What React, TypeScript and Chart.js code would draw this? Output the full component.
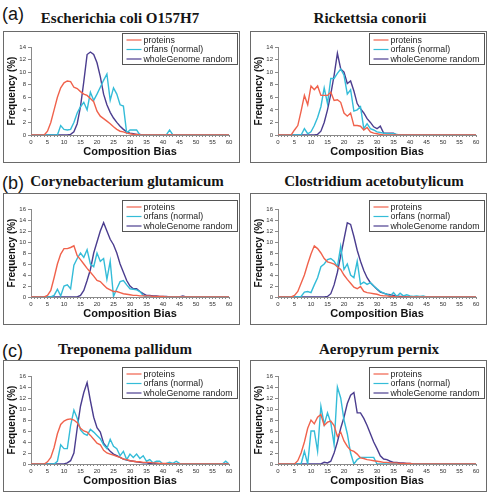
import { useEffect, useRef } from "react";
import { Chart, registerables } from "chart.js";

Chart.register(...registerables);

// ---------- data ----------
const compositionBias = [
  0, 1, 2, 3, 4, 5, 6, 7, 8, 9, 10, 11, 12, 13, 14, 15, 16, 17, 18, 19, 20,
  21, 22, 23, 24, 25, 26, 27, 28, 29, 30, 31, 32, 33, 34, 35, 36, 37, 38, 39, 40,
  41, 42, 43, 44, 45, 46, 47, 48, 49, 50, 51, 52, 53, 54, 55, 56, 57, 58, 59, 60,
];
const seriesNames = ["proteins", "orfans (normal)", "wholeGenome random"];

const ecoliProteins = [
  0, 0, 0, 0, 0, 0.6, 2, 4, 6, 7.5, 8.3, 8.6, 8.5, 7.6, 7.4, 6.9, 6.5, 6.3, 5.8, 5.3,
  3.8, 3.0, 2.6, 2.2, 1.8, 1.3, 0.9, 0.6, 0.5, 0.3, 0.2, 0.1, 0.1, 0, 0, 0, 0, 0, 0, 0,
  0, 0, 0, 0, 0, 0, 0, 0, 0, 0, 0, 0, 0, 0, 0, 0, 0, 0, 0, 0, 0,
];
const ecoliOrfans = [
  0, 0, 0, 0, 0, 0, 0, 0, 0, 1.5, 0.9, 0.8, 0.9, 2, 3.5, 4.5, 5.2, 4.0, 6.8, 5.5,
  6.5, 7.6, 8.7, 9.7, 5.5, 7.5, 6.5, 4.8, 4.6, 0.3, 0.8, 0.8, 0.8, 0, 0, 0, 0, 0, 0, 0,
  0, 0, 0.8, 0, 0, 0, 0, 0, 0, 0, 0, 0, 0, 0, 0, 0, 0, 0, 0, 0, 0,
];
const ecoliGenome = [
  0, 0, 0, 0, 0, 0, 0, 0, 0, 0, 0, 0, 0.1, 0.5, 1.8, 4.5, 8.5, 12.8, 13.2, 12.8,
  11.5, 9.3, 6.5, 4.8, 3.6, 2.7, 2.0, 1.4, 0.9, 0.5, 0.3, 0.2, 0.1, 0.1, 0, 0, 0, 0, 0, 0,
  0, 0, 0, 0, 0, 0, 0, 0, 0, 0, 0, 0, 0, 0, 0, 0, 0, 0, 0, 0, 0,
];

const rickettsiaProteins = [
  0, 0, 0, 0, 0, 0.8, 1.5, 3.8, 6.3, 4.8, 7.8, 7.2, 7.8, 6.3, 6.3, 6.3, 6.8, 5.5, 5.6, 5.2,
  3.5, 3.0, 3.5, 1.5, 1.5, 1.4, 0.8, 1.2, 0.5, 0.3, 0.2, 0.1, 0, 0, 0, 0, 0, 0, 0, 0,
  0, 0, 0, 0, 0, 0, 0, 0, 0, 0, 0, 0, 0, 0, 0, 0, 0, 0, 0, 0, 0,
];
const rickettsiaOrfans = [
  0, 0, 0, 0, 0, 0, 0, 0, 1, 0.2, 0.5, 1.5, 2.8, 4.5, 7.5, 5, 9, 9, 9.8, 10.5,
  9.5, 6.5, 7.2, 3.8, 4, 4.5, 1, 1.8, 1, 0.8, 0.5, 0.4, 0.3, 0.2, 0.2, 0.2, 0.1, 0, 0, 0,
  0, 0, 0, 0, 0, 0, 0, 0, 0, 0, 0, 0, 0, 0, 0, 0, 0, 0, 0, 0, 0,
];
const rickettsiaGenome = [
  0, 0, 0, 0, 0, 0, 0, 0, 0, 0, 0, 0, 0.1, 0.6, 2, 4, 6.5, 9.5, 13, 10.5,
  10, 8.2, 8.6, 7, 5, 4.2, 3.5, 2.6, 2, 1.3, 1, 1.4, 0.3, 0.3, 0.3, 0.3, 0, 0, 0, 0,
  0, 0, 0, 0, 0, 0, 0, 0, 0, 0, 0, 0, 0, 0, 0, 0, 0, 0, 0, 0, 0,
];

const corynebacteriumProteins = [
  0, 0, 0, 0, 0, 0.3, 1.2, 3.5, 6, 7.8, 8.8, 8.8, 9, 9.3, 7.5, 6.8, 6, 5.2, 4.5, 3.8,
  3, 2.8, 2.2, 1.6, 1.3, 1, 1, 0.8, 0.6, 0.5, 0.4, 0.3, 0.3, 0.2, 0.2, 0.2, 0.2, 0.1, 0.1, 0.1,
  0.1, 0, 0, 0, 0, 0, 0, 0, 0, 0, 0, 0, 0, 0, 0, 0, 0, 0, 0, 0, 0,
];
const corynebacteriumOrfans = [
  0, 0, 0, 0, 0, 0, 0, 0.3, 1.4, 0.2, 2, 2.2, 1.5, 5.8, 7, 8, 7.2, 8.6, 6, 5.5,
  8, 6.5, 7, 3.2, 6.5, 0.1, 1.5, 2.8, 3, 2.2, 1.5, 1.4, 1.3, 1, 0.3, 0, 0, 0, 0, 0,
  0, 0, 0, 0, 0, 0, 0, 0, 0, 0, 0, 0, 0, 0, 0, 0, 0, 0, 0, 0, 0,
];
const corynebacteriumGenome = [
  0, 0, 0, 0, 0, 0, 0, 0, 0, 0, 0, 0, 0, 0, 0, 0.3, 1.2, 3, 5, 8,
  10, 12, 13.5, 12, 10.5, 9.5, 8, 6, 4.5, 3, 2, 1.5, 1.5, 1, 0.6, 0.3, 0.3, 0.2, 0.2, 0.1,
  0.1, 0.1, 0, 0, 0, 0, 0.2, 0, 0, 0, 0, 0, 0, 0, 0, 0, 0, 0, 0, 0, 0,
];

const clostridiumProteins = [
  0, 0, 0, 0, 0, 0.3, 1, 2.5, 4, 6, 7.8, 9.3, 8.8, 8, 7, 6.4, 6.2, 6, 5.5, 5,
  4, 3.2, 2.5, 1.8, 1.5, 1.9, 1, 0.8, 0.7, 0.6, 0.5, 0.3, 0.2, 0.2, 0.1, 0.1, 0, 0, 0, 0,
  0, 0, 0, 0, 0, 0, 0, 0, 0, 0, 0, 0, 0, 0, 0, 0, 0, 0, 0, 0, 0,
];
const clostridiumOrfans = [
  0, 0, 0, 0, 0, 0, 0, 0.1, 0.9, 1, 0.8, 2.2, 3.5, 5.5, 6, 6.8, 7, 6.5, 5.5, 9.2,
  5, 6, 4, 3.5, 6.5, 2.3, 2.7, 2.3, 2.6, 2, 1.5, 1, 0.7, 0.5, 0.2, 0.8, 0.1, 0.7, 0.2, 0.4,
  0.2, 0.1, 0.2, 0.1, 0.2, 0, 0, 0, 0, 0, 0, 0, 0, 0, 0, 0, 0, 0, 0, 0, 0,
];
const clostridiumGenome = [
  0, 0, 0, 0, 0, 0, 0, 0, 0, 0, 0, 0, 0, 0, 0, 0.1, 0.6, 2.2, 4.5, 7.5,
  10.5, 13.5, 13.2, 11, 8.5, 6.5, 4.8, 3.5, 2.6, 2, 1.4, 0.9, 0.7, 0.5, 0.4, 0.3, 0.2, 0.1, 0.1, 0,
  0, 0, 0, 0, 0, 0, 0, 0, 0, 0, 0, 0, 0, 0, 0, 0, 0, 0, 0, 0, 0,
];

const treponemaProteins = [
  0, 0, 0, 0, 0, 0.4, 1.2, 3, 5.5, 7.2, 7.8, 8.1, 8.2, 8, 7.5, 6.5, 6, 5.8, 5.2, 4.5,
  3.8, 3.5, 2.5, 2, 1.8, 1.6, 1.4, 1.2, 0.9, 0.8, 0.6, 0.5, 0.4, 0.4, 0.3, 0.3, 0.3, 0.2, 0.2, 0.1,
  0.1, 0.1, 0, 0, 0, 0, 0, 0, 0, 0, 0, 0, 0, 0, 0, 0, 0, 0, 0, 0, 0,
];
const treponemaOrfans = [
  0, 0, 0, 0, 0, 0, 0, 0, 0.5, 3.5, 2.8, 2.8, 7, 9.8, 8.3, 6.2, 5.5, 5.2, 6.3, 5.8,
  5.2, 4.6, 3.5, 2.8, 4.5, 3.2, 2.8, 1.5, 2.3, 0.8, 1.8, 1.2, 1.8, 1, 1.5, 0.5, 0.8, 0.2, 0.5, 0.5,
  0, 0.1, 0.3, 0.1, 0.5, 0.1, 0, 0, 0, 0, 0, 0, 0, 0, 0, 0, 0, 0, 0, 0.5, 0,
];
const treponemaGenome = [
  0, 0, 0, 0, 0, 0, 0, 0, 0, 0, 0, 0.2, 0.6, 2, 6.5, 10.5, 13, 14.8, 11.5, 8.5,
  6.6, 5.8, 3.8, 3, 2.3, 1.8, 1.5, 1.2, 0.9, 0.7, 0.6, 0.5, 0.4, 0.3, 0.2, 0.2, 0.1, 0.1, 0, 0,
  0, 0, 0, 0, 0, 0, 0, 0, 0, 0, 0, 0, 0, 0, 0, 0, 0, 0, 0, 0, 0,
];

const aeropyrumProteins = [
  0, 0, 0, 0, 0, 0, 0.6, 2, 4, 6.5, 8, 7.3, 8.5, 9, 7, 7.6, 7.8, 7, 5, 5.8,
  4.2, 3.2, 2.5, 2.3, 1.8, 1.1, 1, 0.8, 0.7, 0.6, 0.5, 0.4, 0.3, 0.3, 0.2, 0.2, 0.2, 0.1, 0.1, 0.1,
  0.1, 0, 0, 0, 0, 0, 0, 0, 0, 0, 0, 0, 0, 0, 0, 0, 0, 0, 0, 0, 0,
];
const aeropyrumOrfans = [
  0, 0, 0, 0, 0, 0, 0, 0, 2.3, 0, 6, 6, 2.3, 10.5, 7.2, 9.3, 7.5, 3.5, 14, 12,
  8, 5.5, 2, 0, 0.8, 1.2, 1.2, 1.2, 1.2, 1.2, 0, 0, 0, 0, 0, 0, 0, 0, 0, 0,
  0, 0, 0, 0, 0, 0, 0, 0, 0, 0, 0, 0, 0, 0, 0, 0, 0, 0, 0, 0, 0,
];
const aeropyrumGenome = [
  0, 0, 0, 0, 0, 0, 0, 0, 0, 0, 0, 0, 0, 0, 0.3, 0.2, 0.5, 2, 4, 6.5,
  8.5, 11, 12.5, 13, 9.3, 9.3, 8.3, 7, 5.5, 4, 2.8, 1.5, 0.9, 0.8, 0.5, 0.3, 0.3, 0.2, 0.2, 0.1,
  0.1, 0, 0, 0, 0, 0, 0, 0, 0, 0, 0, 0, 0, 0, 0, 0, 0, 0, 0, 0, 0,
];

// ---------- styles ----------
const COLORS = ["#f0624c", "#34bcd8", "#4b3d8f"];
const SANS = "'Liberation Sans', Arial, sans-serif";
const SERIF = "'Liberation Serif', 'Times New Roman', serif";
const FRAME_W = 237;
const FRAME_H = 132;

type PanelProps = {
  left: number;
  top: number;
  yMax: number;
  legendTop: number;
  series: number[][];
};

function Panel({ left, top, yMax, legendTop, series }: PanelProps) {
  const ref = useRef<HTMLCanvasElement | null>(null);

  useEffect(() => {
    if (!ref.current) return;

    const framePlugin = {
      id: "frameBox",
      beforeDraw(chart: any) {
        const c = chart.ctx;
        c.save();
        c.fillStyle = "#ffffff";
        c.fillRect(0, 0, chart.width, chart.height);
        c.strokeStyle = "#6a6a6a";
        c.lineWidth = 1;
        c.strokeRect(0.5, 0.5, chart.width - 1, chart.height - 1);
        c.restore();
      },
    };

    const legendPlugin = {
      id: "boxLegend",
      afterDraw(chart: any) {
        const c = chart.ctx;
        const x0 = 119.5;
        const y0 = legendTop + 0.5;
        const w = 115;
        const h = 31;
        c.save();
        c.fillStyle = "#ffffff";
        c.fillRect(x0, y0, w, h);
        c.strokeStyle = "#555555";
        c.lineWidth = 1;
        c.strokeRect(x0, y0, w, h);
        c.font = `8.8px ${SANS}`;
        c.textBaseline = "middle";
        c.textAlign = "left";
        chart.data.datasets.forEach((ds: any, i: number) => {
          const yy = y0 + 6.5 + i * 9.5;
          c.strokeStyle = ds.borderColor;
          c.lineWidth = 1.2;
          c.beginPath();
          c.moveTo(x0 + 4, yy);
          c.lineTo(x0 + 19, yy);
          c.stroke();
          c.fillStyle = "#222222";
          c.fillText(ds.label, x0 + 21, yy + 0.5);
        });
        c.restore();
      },
    };

    const chart = new Chart(ref.current, {
      type: "line",
      data: {
        labels: compositionBias.map(String),
        datasets: series.map((d, i) => ({
          label: seriesNames[i],
          data: d,
          borderColor: COLORS[i],
          backgroundColor: COLORS[i],
          borderWidth: 1.4,
          pointRadius: 0,
          tension: 0,
          fill: false,
        })),
      },
      options: {
        animation: false,
        responsive: false,
        maintainAspectRatio: false,
        events: [],
        layout: { padding: { top: 16, right: 11, left: 0, bottom: 0 } },
        plugins: {
          legend: { display: false },
          tooltip: { enabled: false },
          title: { display: false },
        },
        scales: {
          x: {
            type: "category",
            offset: false,
            grid: {
              drawOnChartArea: false,
              drawTicks: true,
              tickLength: 2,
              color: "#8a8a8a",
              tickColor: "#8a8a8a",
            },
            border: { color: "#8a8a8a", width: 1 },
            ticks: {
              autoSkip: false,
              maxRotation: 0,
              minRotation: 0,
              padding: 2,
              color: "#333333",
              font: { size: 6, family: SANS },
              callback: (_v: any, i: number) =>
                compositionBias[i] % 5 === 0 ? String(compositionBias[i]) : "",
            },
            title: {
              display: true,
              text: "Composition Bias",
              color: "#111111",
              font: { size: 11, weight: "bold", family: SANS },
              padding: { top: 0, bottom: 4 },
            },
            afterFit: (s: any) => {
              s.height = 28;
            },
          },
          y: {
            min: 0,
            max: yMax,
            grid: {
              drawOnChartArea: false,
              drawTicks: true,
              tickLength: 3,
              color: "#8a8a8a",
              tickColor: "#8a8a8a",
            },
            border: { color: "#8a8a8a", width: 1 },
            ticks: {
              stepSize: 2,
              padding: 2,
              color: "#333333",
              font: { size: 6, family: SANS },
            },
            title: {
              display: true,
              text: "Frequency (%)",
              color: "#111111",
              font: { size: 10, weight: "bold", family: SANS },
              padding: { top: 3, bottom: 0 },
            },
            afterFit: (s: any) => {
              s.width = 28;
            },
          },
        },
      } as any,
      plugins: [framePlugin, legendPlugin],
    });

    return () => chart.destroy();
  }, [yMax, legendTop, series]);

  return (
    <canvas
      ref={ref}
      width={FRAME_W}
      height={FRAME_H}
      style={{ position: "absolute", left, top, width: FRAME_W, height: FRAME_H }}
    />
  );
}

const titleStyle = (cx: number, cy: number): any => ({
  position: "absolute",
  left: cx,
  top: cy,
  transform: "translate(-50%, -50%)",
  whiteSpace: "nowrap",
  fontFamily: SERIF,
  fontWeight: "bold",
  fontSize: 15,
  color: "#151515",
  lineHeight: 1,
});

const labelStyle = (x: number, y: number): any => ({
  position: "absolute",
  left: x,
  top: y,
  fontFamily: SANS,
  fontSize: 18,
  color: "#151515",
  lineHeight: 1,
  whiteSpace: "nowrap",
});

export default function App() {
  return (
    <div
      style={{
        position: "absolute",
        left: 0,
        top: 0,
        width: 496,
        height: 495,
        background: "#ffffff",
        overflow: "hidden",
      }}
    >
      <div style={labelStyle(2, 5)}>(a)</div>
      <div style={labelStyle(2, 174)}>(b)</div>
      <div style={labelStyle(2, 342)}>(c)</div>

      <div style={titleStyle(120, 18)}>Escherichia coli O157H7</div>
      <div style={titleStyle(370, 18)}>Rickettsia conorii</div>
      <div style={titleStyle(127, 181)}>Corynebacterium glutamicum</div>
      <div style={titleStyle(374, 181)}>Clostridium acetobutylicum</div>
      <div style={titleStyle(125, 349)}>Treponema pallidum</div>
      <div style={titleStyle(379, 349)}>Aeropyrum pernix</div>

      <Panel left={3} top={31} yMax={14} legendTop={2}
        series={[ecoliProteins, ecoliOrfans, ecoliGenome]} />
      <Panel left={250} top={31} yMax={14} legendTop={2}
        series={[rickettsiaProteins, rickettsiaOrfans, rickettsiaGenome]} />
      <Panel left={3} top={193} yMax={16} legendTop={7}
        series={[corynebacteriumProteins, corynebacteriumOrfans, corynebacteriumGenome]} />
      <Panel left={250} top={193} yMax={16} legendTop={7}
        series={[clostridiumProteins, clostridiumOrfans, clostridiumGenome]} />
      <Panel left={3} top={360} yMax={16} legendTop={7}
        series={[treponemaProteins, treponemaOrfans, treponemaGenome]} />
      <Panel left={250} top={360} yMax={16} legendTop={7}
        series={[aeropyrumProteins, aeropyrumOrfans, aeropyrumGenome]} />
    </div>
  );
}
